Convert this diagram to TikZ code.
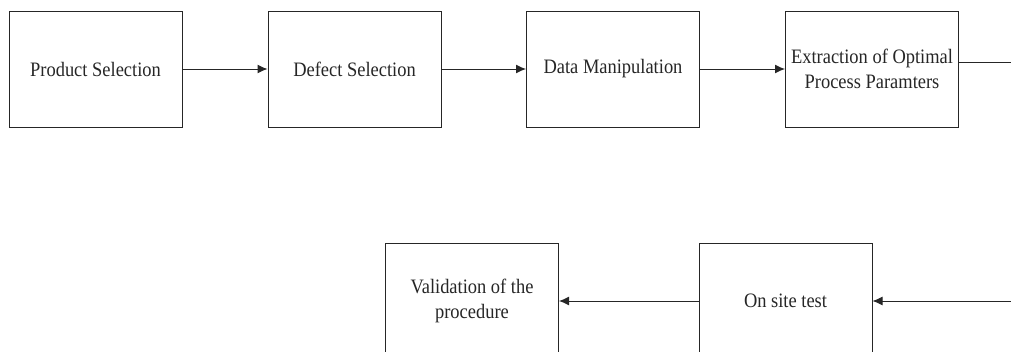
\documentclass[tikz,border=0pt]{standalone}
\usepackage{fontspec}
\setmainfont[FakeStretch=0.9]{Liberation Serif}
\usetikzlibrary{arrows.meta}
\begin{document}
\begin{tikzpicture}[x=1pt,y=-1pt,
  stepbox/.style={draw=black!85,line width=1pt,minimum width=173pt,minimum height=116pt,inner sep=0pt,align=center,font=\fontsize{20.5}{25.5}\selectfont,text=black!85},
  conn/.style={draw=black!85,line width=1pt},
  arr/.style={conn,-{Latex[length=10pt,width=9pt]}}]
\useasboundingbox (0,0) rectangle (1011,351);
\clip (0,0) rectangle (1011,351);
\node[stepbox] (ps) at (95.5,69) {Product Selection};
\node[stepbox] (ds) at (354.5,69) {Defect Selection};
\node[stepbox] (dm) at (613,69) {Data Manipulation};
\node[stepbox] (ex) at (872,69) {Extraction of Optimal\\Process Paramters};
\node[stepbox] (va) at (472,301) {Validation of the\\procedure};
\node[stepbox] (os) at (785.5,301) {On site test};
\coordinate (exo) at (1012,62);
\coordinate (osi) at (1012,301);
\draw[arr] (ps) -- (ds);
\draw[arr] (ds) -- (dm);
\draw[arr] (dm) -- (ex);
\draw[conn] (ex.east |- exo) -- (exo);
\draw[arr] (osi) -- (os);
\draw[arr] (os) -- (va);
\end{tikzpicture}
\end{document}
